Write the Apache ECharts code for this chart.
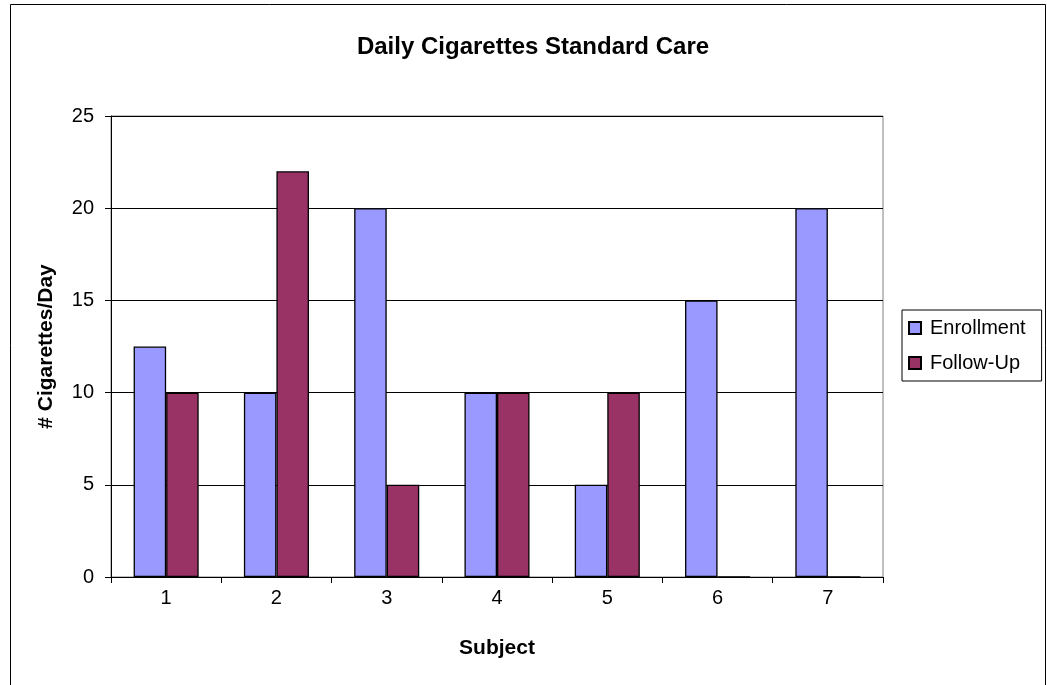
<!DOCTYPE html>
<html><head><meta charset="utf-8">
<script src="https://cdn.jsdelivr.net/npm/echarts@6/dist/echarts.min.js"></script>
<style>html,body{margin:0;padding:0;background:#fff}#c{width:1047px;height:685px}</style>
</head><body><div id="c"></div>
<script>
const categories = ['1','2','3','4','5','6','7'];
const enrollment = [12.5, 10, 20, 10, 5, 15, 20];
const followUp = [10, 22, 5, 10, 10, 0, 0];
const yTicks = [0, 5, 10, 15, 20, 25];
const chart = echarts.init(document.getElementById('c'));
const font = 'Liberation Sans, Arial, sans-serif';
chart.setOption({
  animation: false,
  title: {text: 'Daily Cigarettes Standard Care', left: 528, top: 30, textAlign: 'center',
    textStyle: {fontFamily: font, fontSize: 24, fontWeight: 'bold', color: '#000'}},
  graphic: [{type: 'rect', shape: {x: 10.5, y: 4.5, width: 1035, height: 700},
    style: {fill: 'none', stroke: '#000', lineWidth: 1}, silent: true, z: -1}],
  legend: {orient: 'vertical', left: 902, top: 310, itemWidth: 12, itemHeight: 12,
    itemGap: 15, padding: [8, 16, 8, 6], borderColor: '#000', borderWidth: 1,
    textStyle: {fontFamily: font, fontSize: 20, color: '#000', padding: [0, 0, 0, 4]},
    data: [{name: 'Enrollment', icon: 'rect'}, {name: 'Follow-Up', icon: 'rect'}]},
  grid: {left: 111, right: 164, top: 116, bottom: 108, show: true, borderColor: '#808080', borderWidth: 1},
  xAxis: {type: 'category', data: categories, name: 'Subject', nameLocation: 'middle', nameGap: 61,
    nameTextStyle: {fontFamily: font, fontSize: 21, fontWeight: 'bold', color: '#000'},
    axisLine: {lineStyle: {color: '#000'}},
    axisTick: {show: true, length: 6, lineStyle: {color: '#000'}},
    axisLabel: {fontFamily: font, fontSize: 20, color: '#000', margin: 11}},
  yAxis: {type: 'value', min: yTicks[0], max: yTicks[yTicks.length - 1], interval: 5,
    name: '# Cigarettes/Day', nameLocation: 'middle',
    nameGap: 54, nameTextStyle: {fontFamily: font, fontSize: 21, fontWeight: 'bold', color: '#000'},
    axisLine: {show: true, lineStyle: {color: '#000'}},
    axisTick: {show: true, length: 6, lineStyle: {color: '#000'}},
    axisLabel: {fontFamily: font, fontSize: 20, color: '#000', margin: 17},
    splitLine: {lineStyle: {color: '#000', width: 1}}},
  series: [
    {name: 'Enrollment', type: 'bar', data: enrollment, barGap: '0%', barCategoryGap: '41%',
      itemStyle: {color: '#9999FF', borderColor: '#000', borderWidth: 1.3}},
    {name: 'Follow-Up', type: 'bar', data: followUp, barGap: '0%', barCategoryGap: '41%',
      itemStyle: {color: '#993366', borderColor: '#000', borderWidth: 1.3}}
  ]
});
</script></body></html>
